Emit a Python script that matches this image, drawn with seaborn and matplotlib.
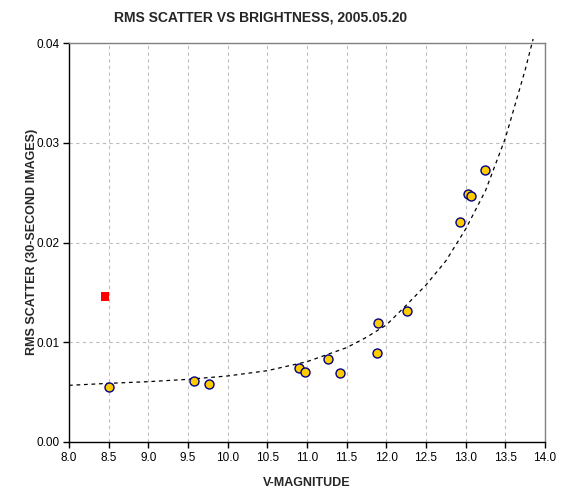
import numpy as np
import pandas as pd
import matplotlib
matplotlib.use("Agg")
import matplotlib.pyplot as plt
import seaborn as sns

# measured stars (V magnitude, rms scatter)
vmag = [8.50, 9.57, 9.765, 10.90, 10.975, 11.27, 11.42, 11.88, 11.89, 12.26,
        12.925, 13.026, 13.07, 13.24]
rms = [0.00555, 0.00615, 0.00581, 0.00745, 0.00702, 0.00835, 0.00692, 0.00895,
       0.01196, 0.01313, 0.02209, 0.02483, 0.02469, 0.02727]

# outlier star
odd_vmag = [8.454]
odd_rms = [0.01457]

# dashed model curve
curve_vmag = [8.0, 8.5, 9.0, 9.5, 10.0, 10.5, 11.0, 11.5, 11.75, 12.0, 12.25,
              12.5, 12.75, 13.0, 13.25, 13.5, 13.75, 13.85]
curve_rms = [0.00568, 0.00588, 0.00605, 0.00628, 0.00662, 0.00715, 0.00805,
             0.00946, 0.0105, 0.01173, 0.0137, 0.01574, 0.01815, 0.02135,
             0.0252, 0.03045, 0.0373, 0.0404]

xticks = [8.0, 8.5, 9.0, 9.5, 10.0, 10.5, 11.0, 11.5, 12.0, 12.5, 13.0, 13.5, 14.0]
yticks = [0.00, 0.01, 0.02, 0.03, 0.04]

sns.set_theme(style="white")
plt.rcParams['font.family'] = ['Liberation Sans', 'DejaVu Sans']

fig = plt.figure(figsize=(5.62, 5.01), dpi=100)
ax = fig.add_axes([69/562, 59/501, 476/562, 399/501])

stars = pd.DataFrame({"vmag": vmag, "rms": rms})
odd = pd.DataFrame({"vmag": odd_vmag, "rms": odd_rms})
curve = pd.DataFrame({"vmag": curve_vmag, "rms": curve_rms})

sns.lineplot(data=curve, x="vmag", y="rms", color="black", linewidth=0.9,
             ax=ax, zorder=3, sort=False)
for l in ax.get_lines():
    l.set_dashes((3, 3))
    l.set_clip_on(False)

sns.scatterplot(data=odd, x="vmag", y="rms", marker="s", s=36, color="#ff0000",
                edgecolor="none", ax=ax, zorder=4)
sns.scatterplot(data=stars, x="vmag", y="rms", marker="o", s=42, color="#ffcc00",
                edgecolor="#000080", linewidth=1.0, ax=ax, zorder=5)

ax.set_xlim(8.0, 14.0)
ax.set_ylim(0.0, 0.04)
ax.set_xticks(xticks)
ax.set_xticklabels([f"{t:.1f}" for t in xticks])
ax.set_yticks(yticks)
ax.set_yticklabels([f"{t:.2f}" for t in yticks])
ax.tick_params(axis="both", direction="out", length=4, width=1, color="black",
               labelsize=8.5, labelcolor="black", pad=3,
               bottom=True, left=True, top=False, right=False)

ax.grid(True, color="#bdbdbd", linestyle=(0, (3, 3)), linewidth=0.8)
ax.set_axisbelow(True)

for side in ["left", "bottom"]:
    ax.spines[side].set_color("black")
    ax.spines[side].set_linewidth(1.0)
for side in ["top", "right"]:
    ax.spines[side].set_color("#808080")
    ax.spines[side].set_linewidth(1.0)

ax.set_xlabel("")
ax.set_ylabel("")

fig.text(261/562, 1 - 17/501, "RMS SCATTER VS BRIGHTNESS, 2005.05.20",
         ha="center", va="center", fontsize=10, fontweight="bold")
fig.text(32/562, 1 - 242/501, "RMS SCATTER (30-SECOND IMAGES)", rotation=90,
         ha="center", va="center", fontsize=9, fontweight="bold")
fig.text(307/562, 1 - 483/501, "V-MAGNITUDE", ha="center", va="center",
         fontsize=9, fontweight="bold")

fig.savefig("out.png", dpi=100, facecolor="white")
